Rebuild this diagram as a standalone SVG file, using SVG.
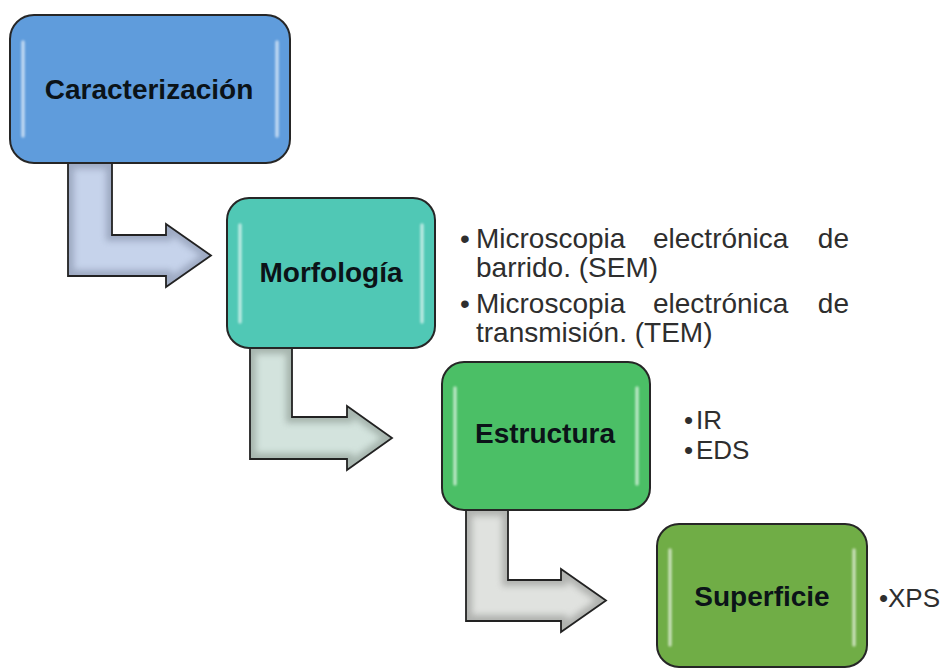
<svg xmlns="http://www.w3.org/2000/svg" width="948" height="669" viewBox="0 0 948 669">
  <style>
    .box { stroke: #262626; stroke-width: 2; }
    .shine { fill: none; stroke: #ffffff; stroke-width: 3.5; stroke-linecap: round; opacity: 0.6; }
    .label { font-family: "Liberation Sans", Arial, sans-serif; font-weight: bold; font-size: 28px; fill: #0b1318; text-anchor: middle; }
    .note { font-family: "Liberation Sans", Arial, sans-serif; font-size: 28px; fill: #2e2e2e; }
    .note-sm { font-family: "Liberation Sans", Arial, sans-serif; font-size: 26px; fill: #2e2e2e; }
    .arrow-edge { fill: none; stroke: #222; stroke-width: 1.8; stroke-linejoin: miter; }
    .arrow-shade { fill: none; stroke-width: 12; opacity: 0.55; }
  </style>
  <defs>
    <filter id="soft" x="-10%" y="-10%" width="120%" height="120%">
      <feGaussianBlur stdDeviation="3"/>
    </filter>
    <filter id="glow" x="-50%" y="-10%" width="200%" height="120%">
      <feGaussianBlur stdDeviation="0.8"/>
    </filter>
    <clipPath id="clip-a1"><path d="M68,163 L112,163 L112,235 L166,235 L166,224 L211,255.5 L166,287 L166,276 L68,276 Z"/></clipPath>
    <clipPath id="clip-a2"><path d="M250,348 L292,348 L292,417 L347,417 L347,406 L392,438 L347,470 L347,459 L250,459 Z"/></clipPath>
    <clipPath id="clip-a3"><path d="M466,510 L508,510 L508,580 L561,580 L561,569 L606,600.5 L561,632 L561,621 L466,621 Z"/></clipPath>
  </defs>

  <rect width="948" height="669" fill="#ffffff"/>

  <!-- bent arrows linking each step to the next -->
  <g id="connectors">
    <g id="arrow-1">
      <path d="M68,163 L112,163 L112,235 L166,235 L166,224 L211,255.5 L166,287 L166,276 L68,276 Z" fill="#c6d3eb"/>
      <path class="arrow-shade" stroke="#7f8aa3" filter="url(#soft)" clip-path="url(#clip-a1)" d="M68,163 L112,163 L112,235 L166,235 L166,224 L211,255.5 L166,287 L166,276 L68,276 Z"/>
      <path class="arrow-edge" d="M68,163 L112,163 L112,235 L166,235 L166,224 L211,255.5 L166,287 L166,276 L68,276 Z"/>
    </g>
    <g id="arrow-2">
      <path d="M250,348 L292,348 L292,417 L347,417 L347,406 L392,438 L347,470 L347,459 L250,459 Z" fill="#d3e3dd"/>
      <path class="arrow-shade" stroke="#839189" filter="url(#soft)" clip-path="url(#clip-a2)" d="M250,348 L292,348 L292,417 L347,417 L347,406 L392,438 L347,470 L347,459 L250,459 Z"/>
      <path class="arrow-edge" d="M250,348 L292,348 L292,417 L347,417 L347,406 L392,438 L347,470 L347,459 L250,459 Z"/>
    </g>
    <g id="arrow-3">
      <path d="M466,510 L508,510 L508,580 L561,580 L561,569 L606,600.5 L561,632 L561,621 L466,621 Z" fill="#e0e2df"/>
      <path class="arrow-shade" stroke="#8a8c89" filter="url(#soft)" clip-path="url(#clip-a3)" d="M466,510 L508,510 L508,580 L561,580 L561,569 L606,600.5 L561,632 L561,621 L466,621 Z"/>
      <path class="arrow-edge" d="M466,510 L508,510 L508,580 L561,580 L561,569 L606,600.5 L561,632 L561,621 L466,621 Z"/>
    </g>
  </g>

  <g id="node-caracterizacion">
    <rect class="box" x="10" y="15" width="280" height="148" rx="24" fill="#5f9cdc"/>
    <path class="shine" filter="url(#glow)" d="M23,42 L23,136 M277,42 L277,136"/>
    <text class="label" x="149" y="99">Caracterización</text>
  </g>

  <g id="node-morfologia">
    <rect class="box" x="227" y="198" width="208" height="150" rx="22" fill="#50c8b5"/>
    <path class="shine" filter="url(#glow)" d="M240,225 L240,322 M422,225 L422,322"/>
    <text class="label" x="331" y="282">Morfología</text>
  </g>

  <g id="notes-morfologia">
    <text class="note" x="460" y="248">•</text>
    <text class="note" x="476" y="248">Microscopia</text>
    <text class="note" x="653" y="248">electrónica</text>
    <text class="note" x="849" y="248" text-anchor="end">de</text>
    <text class="note" x="476" y="277">barrido. (SEM)</text>
    <text class="note" x="460" y="313">•</text>
    <text class="note" x="476" y="313">Microscopia</text>
    <text class="note" x="653" y="313">electrónica</text>
    <text class="note" x="849" y="313" text-anchor="end">de</text>
    <text class="note" x="476" y="342">transmisión. (TEM)</text>
  </g>

  <g id="node-estructura">
    <rect class="box" x="442" y="362" width="208" height="148" rx="22" fill="#4bbf66"/>
    <path class="shine" filter="url(#glow)" d="M455,388 L455,484 M637,388 L637,484"/>
    <text class="label" x="545" y="443">Estructura</text>
  </g>

  <g id="notes-estructura">
    <text class="note-sm" x="684" y="429">•</text>
    <text class="note-sm" x="696" y="429">IR</text>
    <text class="note-sm" x="684" y="459">•</text>
    <text class="note-sm" x="696" y="459">EDS</text>
  </g>

  <g id="node-superficie">
    <rect class="box" x="657" y="524" width="210" height="143" rx="22" fill="#70ad46"/>
    <path class="shine" filter="url(#glow)" d="M670,550 L670,645 M854,550 L854,645"/>
    <text class="label" x="762" y="606">Superficie</text>
  </g>

  <g id="notes-superficie">
    <text class="note-sm" x="879" y="607">•</text>
    <text class="note-sm" x="888" y="607">XPS</text>
  </g>
</svg>
